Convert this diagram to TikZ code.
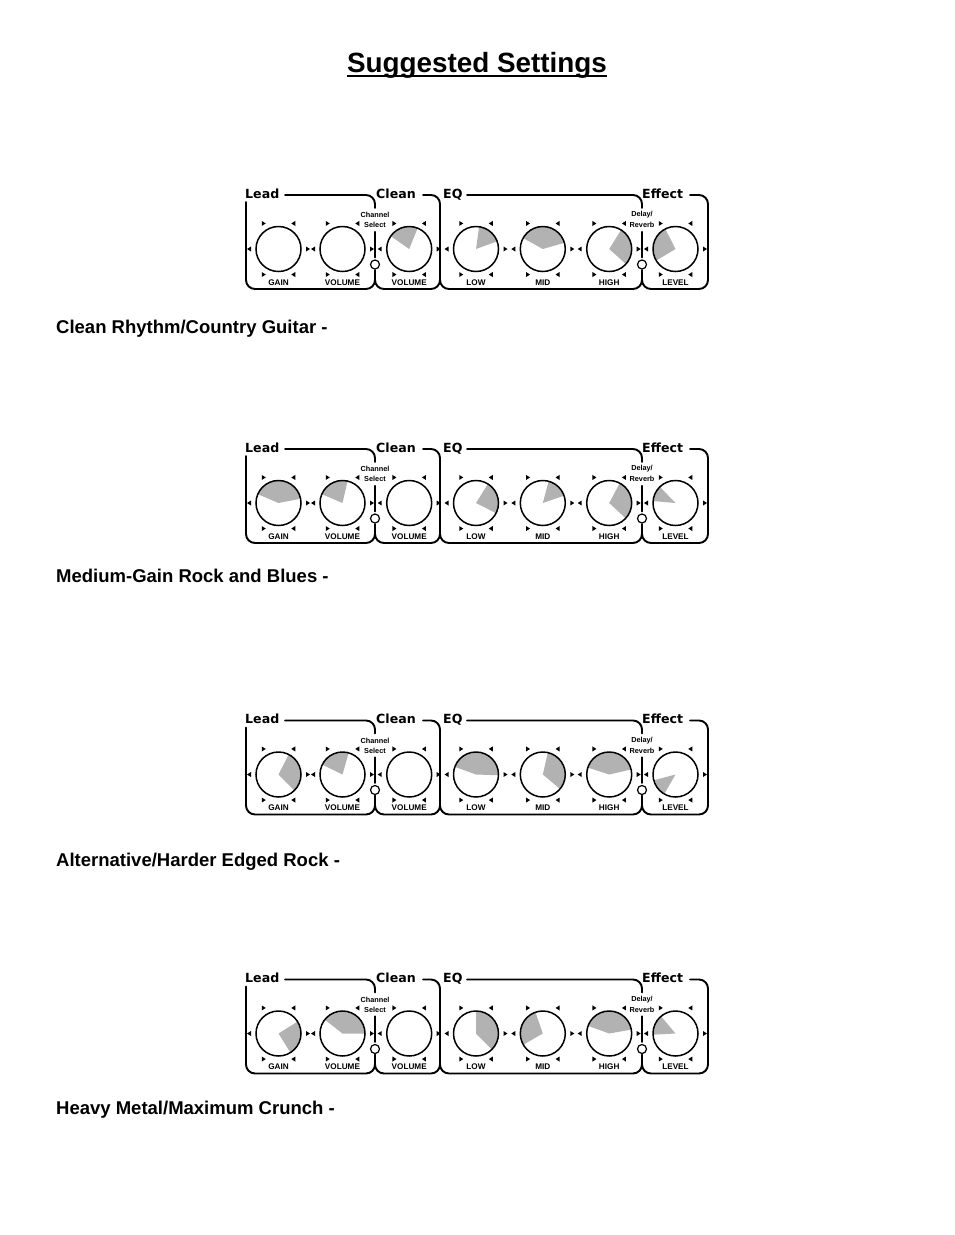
\documentclass[tikz,border=0pt]{standalone}
\usepackage{fontspec}
\setmainfont{Liberation Sans}
\newfontfamily\panelfont{DejaVu Sans}
\usetikzlibrary{positioning}

\tikzset{
  frame/.style={line width=1.9pt, line cap=round},
  knob/.style={circle, draw, line width=1.5pt, minimum size=45pt, inner sep=0pt},
  led/.style={circle, draw, line width=1.2pt, minimum size=9pt, inner sep=0pt},
  wedge/.style={fill=black!30},
  sect/.style={font=\panelfont\bfseries\fontsize{12.6}{14}\selectfont, inner sep=0pt, anchor=base west},
  tag/.style={font=\bfseries\fontsize{8.2}{9}\selectfont, inner sep=0pt},
  tiny/.style={font=\bfseries\fontsize{7.3}{8}\selectfont, inner sep=0pt},
  caption/.style={font=\bfseries\fontsize{18.5}{20}\selectfont, inner sep=0pt, anchor=base west}
}

% #1 name, #2 top of the panel, #3 knobs x/from/to/label
\newcommand{\settings}[3]{%
  \begin{scope}[shift={(0,-#2)}]
    \foreach \x/\lo/\hi/\txt [count=\i] in {#3}{
      \begin{scope}[shift={(\x,-54)}]
        \ifnum\lo=\hi\relax\else
          \fill[wedge] (0,0) -- (\lo:22.5) arc[start angle=\lo, end angle=\hi, radius=22.5] -- cycle;
        \fi
        \foreach \m/\d in {0/1,60/-1,120/1,180/-1,240/1,300/-1}
          \fill[shift={(\m:29.5)}, xscale=\d] (-2,2.5) -- (2,0) -- (-2,-2.5) -- cycle;
        \node[knob] (#1k\i) at (0,0) {};
        \node[tag, below=7pt of #1k\i] (#1t\i) {\txt};
      \end{scope}
    }
    \node[sect] (#1lead) at (245,-3) {Lead};
    \node[sect] (#1clean) at (376,-3) {Clean};
    \node[sect] (#1eq) at (443,-3) {EQ};
    \node[sect] (#1fx) at (642,-3) {Effect};
    \node[tiny] (#1ch) at (375,-20) {Channel};
    \node[tiny] (#1sel) at (375,-30) {Select};
    \node[tiny] (#1dl) at (642,-20) {Delay/};
    \node[tiny] (#1rv) at (642,-30) {Reverb};
    \node[led] (#1cs) at (375,-69.5) {};
    \node[led] (#1ds) at (642,-69.5) {};
    \draw[frame, shorten <=4pt, shorten >=2pt] (#1sel) -- (#1cs);
    \draw[frame, shorten <=4pt, shorten >=2pt] (#1rv) -- (#1ds);
    % outline
    \draw[frame] (285,0) -- (366,0) arc[start angle=90, end angle=0, radius=9] -- (375,-13);
    \draw[frame] (246,-7) -- (246,-85) arc[start angle=180, end angle=270, radius=9]
      -- (366,-94) arc[start angle=270, end angle=360, radius=9] -- (375,-75);
    \draw[frame] (423,0) -- (431,0) arc[start angle=90, end angle=0, radius=9]
      -- (440,-85) arc[start angle=0, end angle=-90, radius=9]
      -- (384,-94) arc[start angle=-90, end angle=-180, radius=9];
    \draw[frame] (440,-85) arc[start angle=180, end angle=270, radius=9]
      -- (633,-94) arc[start angle=270, end angle=360, radius=9] -- (642,-75);
    \draw[frame] (467,0) -- (633,0) arc[start angle=90, end angle=0, radius=9] -- (642,-13);
    \draw[frame] (642,-85) arc[start angle=180, end angle=270, radius=9]
      -- (699,-94) arc[start angle=-90, end angle=0, radius=9]
      -- (708,-9) arc[start angle=0, end angle=90, radius=9] -- (690,0);
  \end{scope}}

\begin{document}
\begin{tikzpicture}[x=1pt, y=1pt]
  \useasboundingbox (0,0) rectangle (954,-1235);

  \node[inner sep=0pt, anchor=base, font=\bfseries\fontsize{27.85}{30}\selectfont] (title) at (477,-72) {Suggested Settings};
  \draw[line width=2pt] ([yshift=-3.5pt]title.base west) -- ([yshift=-3.5pt]title.base east);

  \settings{a}{195}{278.5/0/0/GAIN, 342.5/0/0/VOLUME, 409.2/68/145/VOLUME, 476/20/82/LOW, 542.8/16/151/MID, 609.2/-42/58/HIGH, 675.5/117/211/LEVEL}
  \node[caption] (capa) at (56,-333.5) {Clean Rhythm/Country Guitar -};

  \settings{b}{449}{278.5/11/157/GAIN, 342.5/77/157/VOLUME, 409.2/0/0/VOLUME, 476/-27/58/LOW, 542.8/19/75/MID, 609.2/-43/62/HIGH, 675.5/134/175/LEVEL}
  \node[caption] (capb) at (56,-582.5) {Medium-Gain Rock and Blues -};

  \settings{c}{720.5}{278.5/-45/63/GAIN, 342.5/74/154/VOLUME, 409.2/0/0/VOLUME, 476/-2/160/LOW, 542.8/-40/77/MID, 609.2/13/162/HIGH, 675.5/195/240/LEVEL}
  \node[caption] (capc) at (56,-866.5) {Alternative/Harder Edged Rock -};

  \settings{d}{979.5}{278.5/-58/32/GAIN, 342.5/0/142/VOLUME, 409.2/0/0/VOLUME, 476/-45/90/LOW, 542.8/109/210/MID, 609.2/10/160/HIGH, 675.5/130/183/LEVEL}
  \node[caption] (capd) at (56,-1114.5) {Heavy Metal/Maximum Crunch -};
\end{tikzpicture}
\end{document}
